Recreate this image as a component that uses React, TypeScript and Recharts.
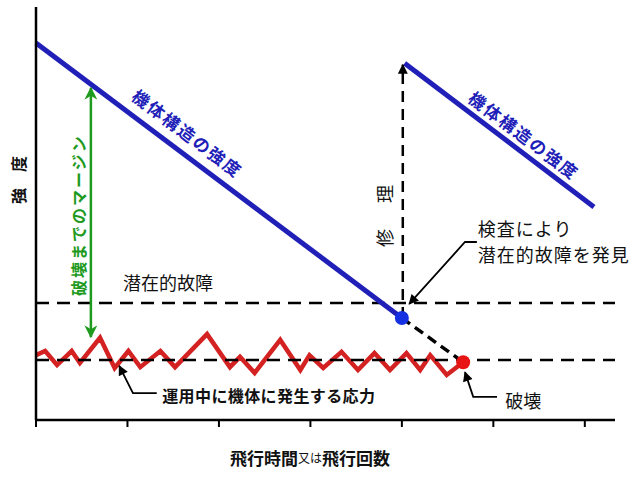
import React from 'react';
import {
  ComposedChart, Line, XAxis, YAxis, ReferenceLine, ReferenceDot, Scatter,
} from 'recharts';

// ---- data (x: flight time in tick units, y: strength in arbitrary units) ----
const X_TICKS = [0, 1, 2, 3, 4, 5, 6];
const X_MAX = 6.33;
const Y_MAX = 100;

const strengthBefore = [
  { x: 0, y: 91.3 },
  { x: 4.0, y: 24.7 },
];
const strengthAfter = [
  { x: 4.03, y: 86.4 },
  { x: 6.1, y: 51.6 },
];
const repairPath = [
  { x: 4.01, y: 24.7 },
  { x: 4.01, y: 86.0 },
];
const failurePath = [
  { x: 4.0, y: 24.7 },
  { x: 4.67, y: 14.0 },
];
const detectPoint = [{ x: 4.0, y: 24.7 }];
const failurePoint = [{ x: 4.67, y: 14.0 }];

const LATENT_LEVEL = 28.3;
const MEAN_STRESS = 14.5;

const stressX = [0, 0.1, 0.23, 0.39, 0.48, 0.7, 0.86, 1.01, 1.14, 1.36, 1.52, 1.87, 2.12, 2.23, 2.39, 2.67, 2.89, 2.99, 3.14, 3.34, 3.52, 3.7, 3.87, 4.05, 4.2, 4.31, 4.49, 4.67];
const stressY = [15.7, 16.7, 13.3, 16.7, 13.8, 19.9, 12.6, 16.7, 12.8, 16.7, 12.8, 20.8, 12.8, 15.3, 11.4, 19.4, 12.1, 15.7, 12.6, 16.5, 12.1, 16.2, 12.1, 16.2, 12.1, 15.7, 10.9, 14.0];
const stressData = stressX.map((x, i) => ({ x, y: stressY[i] }));

const marginArrow = [
  { x: 0.6, y: 20.1 },
  { x: 0.6, y: 80.4 },
];
const inspectLeader = [
  { x: 4.82, y: 43.1 },
  { x: 4.69, y: 43.1 },
  { x: 4.08, y: 28.1 },
];
const stressLeader = [
  { x: 1.32, y: 6.5 },
  { x: 1.06, y: 6.5 },
  { x: 0.91, y: 13.1 },
];
const failureLeader = [
  { x: 5.04, y: 5.6 },
  { x: 4.78, y: 5.6 },
  { x: 4.69, y: 11.6 },
];

// ---- texts ----
const TXT_STRENGTH = '機体構造の強度';
const TXT_MARGIN = '破壊までのマージン';
const TXT_YLABEL = '強　度';
const TXT_REPAIR = '修　理';
const TXT_LATENT = '潜在的故障';
const TXT_INSPECT1 = '検査により';
const TXT_INSPECT2 = '潜在的故障を発見';
const TXT_STRESS = '運用中に機体に発生する応力';
const TXT_FAILURE = '破壊';
const TXT_X1 = '飛行時間';
const TXT_X2 = '又は';
const TXT_X3 = '飛行回数';

const FONT = "'Noto Sans CJK JP', 'Noto Sans', sans-serif";
const BLUE = '#2020b8';
const BLUE_DOT = '#1530e0';
const RED = '#d42222';
const RED_DOT = '#e81414';
const GREEN = '#1e9a1e';
const DASH = '13 8';

type TextOpts = {
  text: React.ReactNode;
  size: number;
  color?: string;
  weight?: string | number;
  angle?: number;
  anchor?: 'start' | 'middle' | 'end';
  spacing?: number;
};

const makeText = (o: TextOpts) => (p: any) => (
  <text
    x={p.cx}
    y={p.cy}
    fill={o.color || '#111'}
    fontSize={o.size}
    fontWeight={o.weight || 'normal'}
    fontFamily={FONT}
    textAnchor={o.anchor || 'start'}
    dominantBaseline="central"
    letterSpacing={o.spacing || 0}
    transform={o.angle ? `rotate(${o.angle}, ${p.cx}, ${p.cy})` : undefined}
  >
    {o.text}
  </text>
);

const dotShape = (color: string) => (p: any) => (
  <circle cx={p.cx} cy={p.cy} r={7} fill={color} />
);

const plainLine = {
  dataKey: 'y',
  dot: false,
  activeDot: false,
  isAnimationActive: false,
  type: 'linear' as const,
  legendType: 'none' as const,
};

export default function App() {
  return (
    <div style={{ position: 'absolute', left: 0, top: 0, width: 640, height: 480, background: '#fff' }}>
      <ComposedChart width={640} height={480} margin={{ top: 7, right: 25, left: 16, bottom: 40 }}>
        <defs>
          <marker id="ahBlack" viewBox="0 0 10 10" refX="9" refY="5" markerUnits="userSpaceOnUse" markerWidth="13" markerHeight="10" orient="auto-start-reverse">
            <path d="M0,0 L10,5 L0,10 z" fill="#000" />
          </marker>
          <marker id="ahGreen" viewBox="0 0 10 10" refX="9" refY="5" markerUnits="userSpaceOnUse" markerWidth="15" markerHeight="13" orient="auto-start-reverse">
            <path d="M0,0 L10,5 L0,10 L3,5 z" fill={GREEN} />
          </marker>
        </defs>
        <XAxis
          type="number"
          dataKey="x"
          domain={[0, X_MAX]}
          ticks={X_TICKS}
          tickSize={7}
          height={20}
          tickFormatter={() => ''}
          axisLine={{ stroke: '#000', strokeWidth: 2.5 }}
          tickLine={{ stroke: '#000', strokeWidth: 2 }}
        />
        <YAxis
          type="number"
          dataKey="y"
          domain={[0, Y_MAX]}
          width={20}
          tick={false}
          tickLine={false}
          axisLine={{ stroke: '#000', strokeWidth: 2.5 }}
        />

        <Line {...plainLine} data={stressData} stroke={RED} strokeWidth={4.5} strokeLinejoin="miter" />
        <ReferenceLine y={LATENT_LEVEL} stroke="#000" strokeWidth={2.5} strokeDasharray={DASH} />
        <ReferenceLine y={MEAN_STRESS} stroke="#000" strokeWidth={2.5} strokeDasharray={DASH} />

        <Line {...plainLine} data={strengthBefore} stroke={BLUE} strokeWidth={5} />
        <Line {...plainLine} data={strengthAfter} stroke={BLUE} strokeWidth={5} />
        <Line {...plainLine} data={repairPath} stroke="#000" strokeWidth={2.5} strokeDasharray="11 7" markerEnd="url(#ahBlack)" />
        <Line {...plainLine} data={failurePath} stroke="#000" strokeWidth={3.5} strokeDasharray="10 6" />
        <Line {...plainLine} data={marginArrow} stroke={GREEN} strokeWidth={2.5} markerStart="url(#ahGreen)" markerEnd="url(#ahGreen)" />
        <Line {...plainLine} data={inspectLeader} stroke="#000" strokeWidth={1.8} markerEnd="url(#ahBlack)" />
        <Line {...plainLine} data={stressLeader} stroke="#000" strokeWidth={1.8} markerEnd="url(#ahBlack)" />
        <Line {...plainLine} data={failureLeader} stroke="#000" strokeWidth={1.8} markerEnd="url(#ahBlack)" />

        <Scatter data={detectPoint} dataKey="y" isAnimationActive={false} shape={dotShape(BLUE_DOT)} legendType="none" />
        <Scatter data={failurePoint} dataKey="y" isAnimationActive={false} shape={dotShape(RED_DOT)} legendType="none" />

        <ReferenceDot x={1.66} y={69.5} r={0} ifOverflow="visible"
          shape={makeText({ text: TXT_STRENGTH, size: 17, color: BLUE, weight: 'bold', angle: 37, anchor: 'middle', spacing: 2 })} />
        <ReferenceDot x={5.34} y={69.0} r={0} ifOverflow="visible"
          shape={makeText({ text: TXT_STRENGTH, size: 17, color: BLUE, weight: 'bold', angle: 37, anchor: 'middle', spacing: 2 })} />
        <ReferenceDot x={0.46} y={49.6} r={0} ifOverflow="visible"
          shape={makeText({ text: TXT_MARGIN, size: 16, color: GREEN, weight: 'bold', angle: -90, anchor: 'middle', spacing: 2 })} />
        <ReferenceDot x={-0.197} y={58.1} r={0} ifOverflow="visible"
          shape={makeText({ text: TXT_YLABEL, size: 16, weight: 'bold', angle: -90, anchor: 'middle' })} />
        <ReferenceDot x={3.8} y={49.9} r={0} ifOverflow="visible"
          shape={makeText({ text: TXT_REPAIR, size: 18, angle: -90, anchor: 'middle', spacing: 4 })} />
        <ReferenceDot x={0.95} y={33.4} r={0} ifOverflow="visible"
          shape={makeText({ text: TXT_LATENT, size: 18 })} />
        <ReferenceDot x={4.83} y={46.5} r={0} ifOverflow="visible"
          shape={makeText({ text: TXT_INSPECT1, size: 18, spacing: 1 })} />
        <ReferenceDot x={4.83} y={40.2} r={0} ifOverflow="visible"
          shape={makeText({ text: TXT_INSPECT2, size: 18, spacing: 1 })} />
        <ReferenceDot x={1.38} y={6.05} r={0} ifOverflow="visible"
          shape={makeText({ text: TXT_STRESS, size: 16, weight: 'bold', spacing: 0.4 })} />
        <ReferenceDot x={5.13} y={4.84} r={0} ifOverflow="visible"
          shape={makeText({ text: TXT_FAILURE, size: 18 })} />
        <ReferenceDot x={2.12} y={-8.96} r={0} ifOverflow="visible"
          shape={makeText({
            text: (
              <>
                <tspan fontSize={17} fontWeight="bold">{TXT_X1}</tspan>
                <tspan fontSize={12}>{TXT_X2}</tspan>
                <tspan fontSize={17} fontWeight="bold">{TXT_X3}</tspan>
              </>
            ),
            size: 17,
          })} />
      </ComposedChart>
    </div>
  );
}
